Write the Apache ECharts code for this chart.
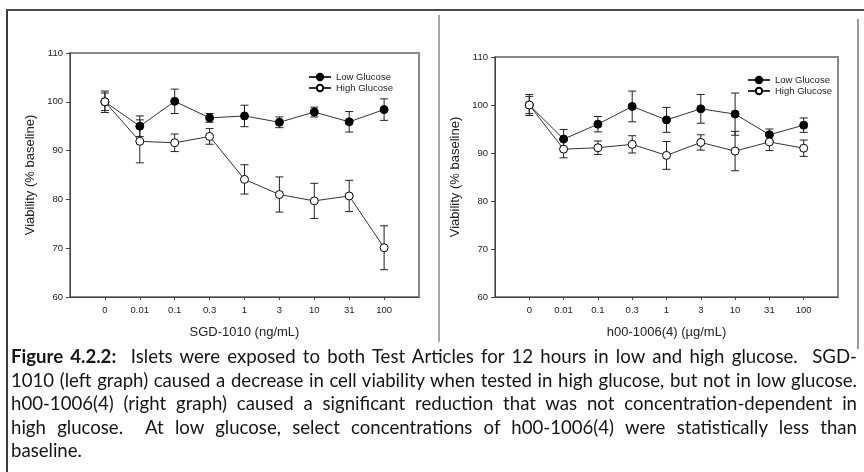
<!DOCTYPE html>
<html>
<head>
<meta charset="utf-8">
<script src="https://cdn.jsdelivr.net/npm/echarts@6/dist/echarts.min.js"></script>
<style>
  html, body { margin: 0; padding: 0; background: #fff; }
  #page { position: relative; width: 864px; height: 472px; overflow: hidden; background: #fff; }
  #chart { position: absolute; left: 0; top: 0; width: 864px; height: 472px; }
  .rule { position: absolute; }
  #caption { position: absolute; left: 11px; top: 345px; width: 846px; font-family: Lato, "Open Sans", sans-serif; font-size: 18.6px; color: #151515; }
  #caption div { height: 23.6px; line-height: 23.6px; text-align: justify; text-align-last: justify; white-space: nowrap; }
  #caption div.last { text-align: left; text-align-last: left; }
</style>
</head>
<body>
<div id="page">
  <div class="rule" style="left:6px; top:9px; width:2px; height:463px; background:#3a3a3a;"></div>
  <div class="rule" style="left:6px; top:9px; width:858px; height:2px; background:#4a4a4a;"></div>
  <div class="rule" style="left:438px; top:15px; width:2px; height:327px; background:#a8a8a8;"></div>
  <div class="rule" style="left:857px; top:19px; width:2px; height:330px; background:#9a9a9a;"></div>
  <div id="chart"></div>
  <div id="caption">
    <div><b>Figure 4.2.2:</b>&nbsp; Islets were exposed to both Test Articles for 12 hours in low and high glucose.&nbsp; SGD-</div>
    <div>1010 (left graph) caused a decrease in cell viability when tested in high glucose, but not in low glucose.</div>
    <div>h00-1006(4) (right graph) caused a significant reduction that was not concentration-dependent in</div>
    <div>high glucose.&nbsp; At low glucose, select concentrations of h00-1006(4) were statistically less than</div>
    <div class="last">baseline.</div>
  </div>
</div>
<script>
// Concentration categories shared by both panels
const categories = ['0', '0.01', '0.1', '0.3', '1', '3', '10', '31', '100'];
const yTicks = [60, 70, 80, 90, 100, 110];

// SGD-1010 viability (% baseline), mean and error
const sgdLow = [100, 95.0, 100.1, 96.7, 97.1, 95.8, 97.9, 95.9, 98.4];
const sgdLowErr = [2.2, 2.1, 2.5, 0.9, 2.2, 1.1, 1.0, 2.1, 2.2];
const sgdHigh = [100, 91.9, 91.6, 92.9, 84.1, 81.0, 79.7, 80.7, 70.1];
const sgdHighErr = [1.8, 4.4, 1.8, 1.6, 3.0, 3.6, 3.6, 3.2, 4.5];

// h00-1006(4) viability (% baseline), mean and error
const h00Low = [100, 92.9, 96.0, 99.7, 96.9, 99.2, 98.1, 93.8, 95.8];
const h00LowErr = [2.2, 2.0, 1.6, 3.2, 2.6, 3.0, 4.4, 1.2, 1.5];
const h00High = [100, 90.8, 91.1, 91.8, 89.5, 92.2, 90.4, 92.3, 91.0];
const h00HighErr = [1.8, 1.8, 1.4, 1.8, 2.9, 1.6, 4.1, 1.8, 1.7];

const FONT = '"Liberation Sans", Arial, sans-serif';
const catIdx = categories.map((c, i) => i);

function points(vals) { return vals.map((v, i) => [i, v]); }
function errRanges(vals, errs) { return vals.map((v, i) => [i, v - errs[i], v + errs[i]]); }

// Vertical error bar with caps at both ends
function renderErr(params, api) {
  const x = api.value(0);
  const lo = api.coord([x, api.value(1)]);
  const hi = api.coord([x, api.value(2)]);
  const w = 4;
  const style = { stroke: '#222', lineWidth: 1 };
  return {
    type: 'group',
    children: [
      { type: 'line', shape: { x1: lo[0], y1: lo[1], x2: hi[0], y2: hi[1] }, style },
      { type: 'line', shape: { x1: hi[0] - w, y1: hi[1], x2: hi[0] + w, y2: hi[1] }, style },
      { type: 'line', shape: { x1: lo[0] - w, y1: lo[1], x2: lo[0] + w, y2: lo[1] }, style }
    ]
  };
}

function xAxis(gridIndex, name) {
  return {
    type: 'value', gridIndex, min: -1, max: 9, interval: 1,
    axisLine: { show: true, onZero: false, lineStyle: { color: '#444', width: 1 } },
    axisTick: { show: true, length: 3, customValues: catIdx, lineStyle: { color: '#444' } },
    axisLabel: { customValues: catIdx, formatter: v => categories[v] ?? '', fontSize: 9.5, color: '#222', fontFamily: FONT, margin: 8 },
    splitLine: { show: false },
    name, nameLocation: 'middle', nameGap: 29,
    nameTextStyle: { fontSize: 13, color: '#222', fontFamily: FONT }
  };
}

function yAxis(gridIndex) {
  return {
    type: 'value', gridIndex, min: yTicks[0], max: yTicks[yTicks.length - 1], interval: 10,
    axisLine: { show: true, onZero: false, lineStyle: { color: '#444', width: 1 } },
    axisTick: { show: true, length: 4, lineStyle: { color: '#444' } },
    axisLabel: { fontSize: 9.5, color: '#222', fontFamily: FONT, margin: 7 },
    splitLine: { show: false },
    name: 'Viability (% baseline)', nameLocation: 'middle', nameGap: 33,
    nameTextStyle: { fontSize: 13, color: '#222', fontFamily: FONT }
  };
}

function lineSeries(name, vals, idx, filled) {
  return {
    type: 'line', name, xAxisIndex: idx, yAxisIndex: idx, data: points(vals),
    symbol: 'circle', symbolSize: 8, z: 3,
    lineStyle: { color: '#333', width: 1 },
    itemStyle: filled ? { color: '#000', borderColor: '#000', borderWidth: 1 }
                      : { color: '#fff', borderColor: '#000', borderWidth: 1 }
  };
}

function errSeries(vals, errs, idx) {
  return {
    type: 'custom', xAxisIndex: idx, yAxisIndex: idx, z: 2,
    data: errRanges(vals, errs), renderItem: renderErr,
    encode: { x: 0, y: [1, 2] }, silent: true
  };
}

const legendBase = {
  orient: 'vertical', itemWidth: 22, itemHeight: 8, itemGap: 1,
  textStyle: { fontSize: 9.5, color: '#222', fontFamily: FONT },
  data: ['Low Glucose', 'High Glucose']
};

const chart = echarts.init(document.getElementById('chart'), null, { renderer: 'canvas' });
chart.setOption({
  animation: false,
  backgroundColor: 'transparent',
  grid: [
    { left: 70, top: 53, width: 349, height: 244, show: true, borderColor: '#888', borderWidth: 2, backgroundColor: 'transparent' },
    { left: 495, top: 57, width: 343, height: 240, show: true, borderColor: '#888', borderWidth: 2, backgroundColor: 'transparent' }
  ],
  xAxis: [xAxis(0, 'SGD-1010 (ng/mL)'), xAxis(1, 'h00-1006(4) (µg/mL)')],
  yAxis: [yAxis(0), yAxis(1)],
  legend: [
    Object.assign({ left: 303, top: 67 }, legendBase),
    Object.assign({ left: 742, top: 70 }, legendBase)
  ],
  series: [
    errSeries(sgdLow, sgdLowErr, 0),
    errSeries(sgdHigh, sgdHighErr, 0),
    lineSeries('Low Glucose', sgdLow, 0, true),
    lineSeries('High Glucose', sgdHigh, 0, false),
    errSeries(h00Low, h00LowErr, 1),
    errSeries(h00High, h00HighErr, 1),
    lineSeries('Low Glucose', h00Low, 1, true),
    lineSeries('High Glucose', h00High, 1, false)
  ]
});
</script>
</body>
</html>
